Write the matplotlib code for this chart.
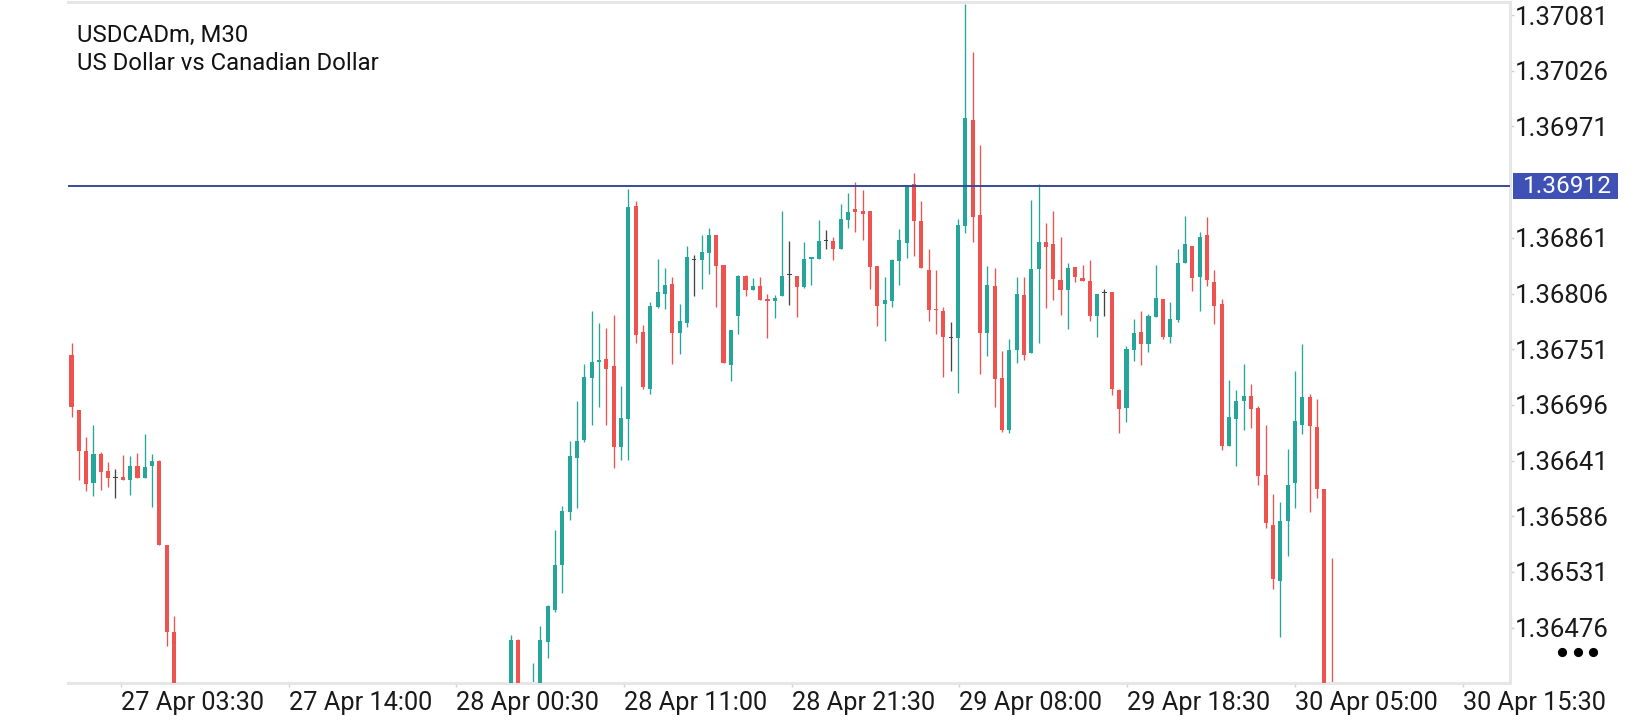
import matplotlib
matplotlib.use("Agg")
import matplotlib.pyplot as plt
import matplotlib.transforms as mtransforms
from matplotlib.patches import Rectangle
from matplotlib.lines import Line2D
import numpy as np

plt.rcParams['font.family'] = ['Roboto', 'DejaVu Sans']

symbol = "USDCADm, M30"
description = "US Dollar vs Canadian Dollar"
last_price = 1.36912

# M30 candles, oldest first
opens = [
    1.36745, 1.36691, 1.36650, 1.36619, 1.36647, 1.36631, 1.36624, 1.36625, 1.36622, 1.36636,
    1.36624, 1.36636, 1.36641, 1.36558, 1.36472,
    # below the visible range
    1.36395, 1.36370, 1.36342, 1.36355, 1.36328, 1.36301, 1.36312, 1.36287, 1.36296, 1.36280,
    1.36291, 1.36305, 1.36298, 1.36276, 1.36284, 1.36299, 1.36293, 1.36310, 1.36302, 1.36318,
    1.36309, 1.36296, 1.36304, 1.36322, 1.36315, 1.36333, 1.36326, 1.36309, 1.36318, 1.36337,
    1.36329, 1.36345, 1.36338, 1.36352, 1.36346, 1.36332, 1.36348, 1.36364, 1.36357, 1.36373,
    1.36366, 1.36381, 1.36374, 1.36390, 1.36384,
    # back into view
    1.36398, 1.36464, 1.36405, 1.36400, 1.36418, 1.36462, 1.36493, 1.36538, 1.36590, 1.36643,
    1.36661, 1.36723, 1.36738, 1.36741, 1.36734, 1.36654, 1.36682, 1.36892, 1.36768, 1.36712,
    1.36793, 1.36806, 1.36815, 1.36767, 1.36777, 1.36840, 1.36839, 1.36846, 1.36864, 1.36834,
    1.36735, 1.36784, 1.36823, 1.36809, 1.36813, 1.36801, 1.36799, 1.36804, 1.36825, 1.36823,
    1.36812, 1.36840, 1.36840, 1.36858, 1.36858, 1.36850, 1.36879, 1.36889, 1.36888, 1.36888,
    1.36833, 1.36796, 1.36799, 1.36838, 1.36856, 1.36914, 1.36878, 1.36829, 1.36791, 1.36789,
    1.36763, 1.36762, 1.36873, 1.36977, 1.36884, 1.36767, 1.36813, 1.36723, 1.36671, 1.36750,
    1.36805, 1.36747, 1.36830, 1.36857, 1.36855, 1.36819, 1.36809, 1.36832, 1.36821, 1.36818,
    1.36784, 1.36807, 1.36807, 1.36711, 1.36693, 1.36750, 1.36768, 1.36756, 1.36783, 1.36801,
    1.36763, 1.36780, 1.36836, 1.36853, 1.36822, 1.36864, 1.36817, 1.36796, 1.36655, 1.36682,
    1.36700, 1.36705, 1.36693, 1.36627, 1.36577, 1.36522, 1.36581, 1.36619, 1.36676, 1.36704,
    1.36674, 1.36613, 1.36390,
]
highs = [
    1.36757, 1.36691, 1.36664, 1.36676, 1.36649, 1.36640, 1.36633, 1.36646, 1.36645, 1.36648,
    1.36667, 1.36647, 1.36642, 1.36558, 1.36487,
    1.36405, 1.36380, 1.36368, 1.36362, 1.36335, 1.36325, 1.36318, 1.36305, 1.36302, 1.36299,
    1.36312, 1.36318, 1.36304, 1.36290, 1.36306, 1.36308, 1.36316, 1.36318, 1.36323, 1.36326,
    1.36314, 1.36311, 1.36328, 1.36331, 1.36340, 1.36342, 1.36330, 1.36325, 1.36344, 1.36346,
    1.36352, 1.36356, 1.36360, 1.36362, 1.36351, 1.36355, 1.36371, 1.36375, 1.36382, 1.36388,
    1.36392, 1.36396, 1.36401, 1.36404, 1.36410,
    1.36469, 1.36465, 1.36415, 1.36441, 1.36478, 1.36498, 1.36572, 1.36596, 1.36660, 1.36700,
    1.36736, 1.36789, 1.36777, 1.36772, 1.36785, 1.36715, 1.36909, 1.36897, 1.36775, 1.36798,
    1.36840, 1.36831, 1.36822, 1.36796, 1.36853, 1.36844, 1.36864, 1.36871, 1.36864, 1.36834,
    1.36770, 1.36824, 1.36824, 1.36821, 1.36822, 1.36806, 1.36805, 1.36888, 1.36858, 1.36823,
    1.36857, 1.36842, 1.36879, 1.36869, 1.36862, 1.36894, 1.36905, 1.36916, 1.36908, 1.36888,
    1.36833, 1.36822, 1.36840, 1.36870, 1.36912, 1.36925, 1.36897, 1.36850, 1.36829, 1.36793,
    1.36778, 1.36880, 1.37092, 1.37045, 1.36953, 1.36833, 1.36831, 1.36749, 1.36761, 1.36822,
    1.36822, 1.36898, 1.36914, 1.36876, 1.36888, 1.36862, 1.36836, 1.36832, 1.36834, 1.36839,
    1.36806, 1.36810, 1.36807, 1.36712, 1.36754, 1.36781, 1.36789, 1.36786, 1.36834, 1.36801,
    1.36798, 1.36850, 1.36883, 1.36853, 1.36867, 1.36882, 1.36829, 1.36801, 1.36721, 1.36711,
    1.36736, 1.36717, 1.36695, 1.36676, 1.36608, 1.36600, 1.36652, 1.36729, 1.36756, 1.36707,
    1.36702, 1.36613, 1.36545,
]
lows = [
    1.36684, 1.36622, 1.36611, 1.36606, 1.36612, 1.36615, 1.36604, 1.36622, 1.36607, 1.36624,
    1.36624, 1.36595, 1.36558, 1.36458, 1.36380,
    1.36355, 1.36330, 1.36331, 1.36318, 1.36290, 1.36294, 1.36275, 1.36280, 1.36270, 1.36273,
    1.36286, 1.36292, 1.36268, 1.36270, 1.36279, 1.36286, 1.36288, 1.36297, 1.36296, 1.36303,
    1.36288, 1.36290, 1.36300, 1.36309, 1.36312, 1.36320, 1.36301, 1.36303, 1.36314, 1.36322,
    1.36324, 1.36331, 1.36334, 1.36340, 1.36325, 1.36328, 1.36343, 1.36350, 1.36352, 1.36360,
    1.36361, 1.36368, 1.36370, 1.36378, 1.36380,
    1.36390, 1.36395, 1.36388, 1.36392, 1.36405, 1.36446, 1.36491, 1.36510, 1.36582, 1.36594,
    1.36659, 1.36676, 1.36694, 1.36676, 1.36634, 1.36642, 1.36642, 1.36757, 1.36712, 1.36707,
    1.36792, 1.36791, 1.36736, 1.36746, 1.36773, 1.36804, 1.36810, 1.36825, 1.36793, 1.36737,
    1.36720, 1.36766, 1.36804, 1.36809, 1.36800, 1.36762, 1.36782, 1.36804, 1.36795, 1.36783,
    1.36811, 1.36814, 1.36840, 1.36850, 1.36839, 1.36850, 1.36871, 1.36867, 1.36859, 1.36810,
    1.36774, 1.36759, 1.36793, 1.36814, 1.36841, 1.36843, 1.36831, 1.36779, 1.36766, 1.36724,
    1.36729, 1.36708, 1.36866, 1.36857, 1.36726, 1.36744, 1.36694, 1.36669, 1.36668, 1.36737,
    1.36740, 1.36747, 1.36757, 1.36792, 1.36800, 1.36785, 1.36771, 1.36817, 1.36818, 1.36779,
    1.36763, 1.36784, 1.36706, 1.36668, 1.36679, 1.36739, 1.36735, 1.36748, 1.36783, 1.36761,
    1.36757, 1.36778, 1.36836, 1.36808, 1.36789, 1.36813, 1.36776, 1.36651, 1.36655, 1.36636,
    1.36671, 1.36673, 1.36617, 1.36574, 1.36514, 1.36467, 1.36547, 1.36594, 1.36667, 1.36590,
    1.36604, 1.36375, 1.36370,
]
closes = [
    1.36694, 1.36650, 1.36618, 1.36647, 1.36630, 1.36624, 1.36624, 1.36622, 1.36636, 1.36624,
    1.36635, 1.36641, 1.36558, 1.36472, 1.36395,
    1.36370, 1.36342, 1.36355, 1.36328, 1.36301, 1.36312, 1.36287, 1.36296, 1.36280, 1.36291,
    1.36305, 1.36298, 1.36276, 1.36284, 1.36299, 1.36293, 1.36310, 1.36302, 1.36318, 1.36309,
    1.36296, 1.36304, 1.36322, 1.36315, 1.36333, 1.36326, 1.36309, 1.36318, 1.36337, 1.36329,
    1.36345, 1.36338, 1.36352, 1.36346, 1.36332, 1.36348, 1.36364, 1.36357, 1.36373, 1.36366,
    1.36381, 1.36374, 1.36390, 1.36384, 1.36398,
    1.36464, 1.36405, 1.36400, 1.36412, 1.36464, 1.36497, 1.36538, 1.36591, 1.36645, 1.36660,
    1.36724, 1.36738, 1.36740, 1.36731, 1.36654, 1.36683, 1.36891, 1.36765, 1.36714, 1.36794,
    1.36807, 1.36814, 1.36767, 1.36779, 1.36842, 1.36840, 1.36847, 1.36864, 1.36833, 1.36737,
    1.36770, 1.36823, 1.36809, 1.36813, 1.36800, 1.36799, 1.36802, 1.36823, 1.36825, 1.36812,
    1.36840, 1.36842, 1.36858, 1.36858, 1.36850, 1.36880, 1.36887, 1.36887, 1.36885, 1.36832,
    1.36794, 1.36800, 1.36839, 1.36859, 1.36912, 1.36878, 1.36831, 1.36790, 1.36790, 1.36763,
    1.36763, 1.36874, 1.36979, 1.36882, 1.36767, 1.36814, 1.36722, 1.36671, 1.36750, 1.36806,
    1.36745, 1.36830, 1.36857, 1.36852, 1.36820, 1.36809, 1.36831, 1.36822, 1.36818, 1.36784,
    1.36806, 1.36807, 1.36712, 1.36692, 1.36751, 1.36767, 1.36756, 1.36784, 1.36802, 1.36763,
    1.36781, 1.36836, 1.36855, 1.36821, 1.36862, 1.36819, 1.36794, 1.36655, 1.36684, 1.36700,
    1.36705, 1.36692, 1.36626, 1.36579, 1.36524, 1.36581, 1.36617, 1.36680, 1.36704, 1.36675,
    1.36613, 1.36390, 1.36385,
]

time_labels = ["27 Apr 03:30", "27 Apr 14:00", "28 Apr 00:30", "28 Apr 11:00", "28 Apr 21:30",
               "29 Apr 08:00", "29 Apr 18:30", "30 Apr 05:00", "30 Apr 15:30"]
price_labels = [1.37081, 1.37026, 1.36971, 1.36861, 1.36806, 1.36751,
                1.36696, 1.36641, 1.36586, 1.36531, 1.36476]

# layout
W, H = 1640, 720
UP, DOWN, DOJI = '#26A69A', '#EF5350', '#454545'
FRAME = '#E6E6E6'
time_tick_pos = [6.74, 29.63, 52.52, 75.41, 98.30, 121.19, 144.09, 166.98, 189.87]
ymin, ymax = 1.364212, 1.370940
px = (ymax - ymin) / 681.0

fig = plt.figure(figsize=(W / 100, H / 100), dpi=100)
fig.patch.set_facecolor('white')
ax = fig.add_axes([68 / W, 37 / H, 1442 / W, 681 / H])

o = np.array(opens)
h = np.array(highs)
l = np.array(lows)
c = np.array(closes)
x = np.arange(len(o))

colors = np.where(c > o, UP, np.where(c < o, DOWN, DOJI))
ax.vlines(x, l, h, colors=colors, linewidth=0.95, zorder=2)
body = np.maximum(np.abs(c - o), px)
bottom = np.where(np.abs(c - o) < px, np.minimum(o, c) - px / 2, np.minimum(o, c))
ax.bar(x, body, bottom=bottom, width=0.56, color=colors, linewidth=0, zorder=3)

ax.axhline(last_price, color='#3A4A96', linewidth=1.4, zorder=4)

ax.set_xlim(-0.48, 196.35)
ax.set_ylim(ymin, ymax)

for side in ['top', 'right', 'bottom']:
    ax.spines[side].set_color(FRAME)
    ax.spines[side].set_linewidth(2.2)
ax.spines['left'].set_visible(False)

ax.yaxis.tick_right()
ax.set_yticks(price_labels)
ax.set_yticklabels([f"{v:.5f}" for v in price_labels])
ax.tick_params(axis='y', length=3, width=1, color='#D0D0D0', pad=0.5,
               labelsize=18.6, labelcolor='#1A1A1A')
ax.set_xticks(time_tick_pos)
ax.set_xticklabels(time_labels, ha='left')
ax.tick_params(axis='x', length=3, width=1, color='#D0D0D0', pad=3,
               labelsize=18.2, labelcolor='#1A1A1A')

# last price tag
blend = mtransforms.blended_transform_factory(ax.transAxes, ax.transData)
ax.add_patch(Rectangle((1.002, last_price - 13 * px), 105 / 1442, 26 * px,
                       transform=blend, clip_on=False, facecolor='#3F51B5',
                       edgecolor='none', zorder=5))
ax.text(1.0088, last_price, f"{last_price:.5f}", transform=blend, ha='left',
        va='center', color='white', fontsize=17.6, zorder=6, clip_on=False)

fig.text(77 / W, 1 - 41.7 / H, symbol, fontsize=17.2, color='#111111', va='baseline')
fig.text(77 / W, 1 - 70 / H, description, fontsize=17.2, color='#111111', va='baseline')

fig.add_artist(Line2D([1561.7 / W, 1577.7 / W, 1593.3 / W], [1 - 651.7 / H] * 3,
                      transform=fig.transFigure, marker='o', linestyle='',
                      markersize=5.6, color='black'))

fig.savefig('out.png', dpi=100, facecolor='white')
